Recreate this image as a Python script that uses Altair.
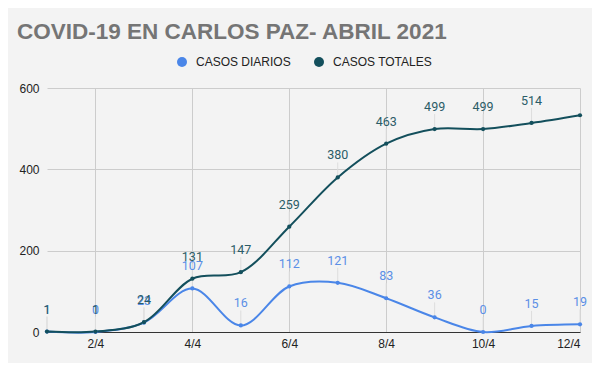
import altair as alt
import pandas as pd

days = list(range(1, 13))
diarios = [1, 0, 23, 107, 16, 112, 121, 83, 36, 0, 15, 19]
totales = [1, 1, 24, 131, 147, 259, 380, 463, 499, 499, 514, 533]
diarios_labels = ["1", "0", "23", "107", "16", "112", "121", "83", "36", "0", "15", "19"]
totales_labels = ["1", "1", "24", "131", "147", "259", "380", "463", "499", "499", "514", ""]
series = ["CASOS DIARIOS", "CASOS TOTALES"]
line_colors = ["#4a86e8", "#134f5c"]
label_colors = ["#5b8fe6", "#2b5c67"]
x_ticks = [2, 4, 6, 8, 10, 12]
y_ticks = [0, 200, 400, 600]
title_text = "COVID-19 EN CARLOS PAZ- ABRIL 2021"

rows = []
for d, v, l in zip(days, diarios, diarios_labels):
    rows.append({"day": d, "series": series[0], "value": v, "label": l})
for d, v, l in zip(days, totales, totales_labels):
    rows.append({"day": d, "series": series[1], "value": v, "label": l})
df = pd.DataFrame(rows)

x_enc = alt.X(
    "day:Q",
    scale=alt.Scale(domain=[1, 12], nice=False, zero=False),
    axis=alt.Axis(
        values=x_ticks,
        labelExpr="datum.value + '/4'",
        grid=True,
        gridColor="#cccccc",
        domainColor="#333333",
        ticks=False,
        title=None,
        labelFontSize=12,
        labelColor="#222222",
        labelFont="Liberation Sans",
        labelPadding=6,
    ),
)
y_enc = alt.Y(
    "value:Q",
    scale=alt.Scale(domain=[0, 600], nice=False),
    axis=alt.Axis(
        values=y_ticks,
        grid=True,
        gridColor="#cccccc",
        domain=False,
        ticks=False,
        title=None,
        labelFontSize=12,
        labelColor="#222222",
        labelFont="Liberation Sans",
        labelPadding=8,
    ),
)

base = alt.Chart(df)

leaders = base.transform_filter("datum.label != ''").mark_rule(
    color="#dddddd", strokeWidth=1, y2Offset=-15
).encode(x=x_enc, y=y_enc, y2=alt.Y2("value:Q"))

lines = base.mark_line(interpolate="catmull-rom", strokeWidth=2).encode(
    x=x_enc,
    y=y_enc,
    color=alt.Color(
        "series:N",
        scale=alt.Scale(domain=series, range=line_colors),
        legend=alt.Legend(
            title=None,
            orient="none",
            legendX=129,
            legendY=-32,
            direction="horizontal",
            symbolType="circle",
            symbolSize=100,
            symbolStrokeWidth=0,
            labelFontSize=12,
            labelFont="Liberation Sans",
            labelColor="#222222",
            columnPadding=22,
            labelOffset=8,
        ),
    ),
)

points = base.mark_circle(size=18, opacity=1).encode(
    x=x_enc,
    y=y_enc,
    color=alt.Color("series:N", scale=alt.Scale(domain=series, range=line_colors), legend=None),
)

text_d = base.transform_filter(alt.datum.series == series[0]).mark_text(
    dy=-22, baseline="middle", fontSize=12.5, font="Roboto", color=label_colors[0]
).encode(x=x_enc, y=y_enc, text="label:N")

text_t = base.transform_filter(alt.datum.series == series[1]).mark_text(
    dy=-22, baseline="middle", fontSize=12.5, font="Roboto", color=label_colors[1]
).encode(x=x_enc, y=y_enc, text="label:N")

chart = (
    alt.layer(leaders, lines, points, text_d, text_t)
    .properties(
        width=533,
        height=244,
        background="#f3f3f3",
        autosize=alt.AutoSizeParams(type="none"),
        padding={"left": 39, "top": 80, "right": 12, "bottom": 31},
        title=alt.TitleParams(
            text=title_text,
            anchor="start",
            frame="group",
            font="Liberation Sans",
            fontSize=22.5,
            fontWeight="bold",
            color="#757575",
            dx=-30,
            offset=13,
        ),
    )
    .configure_view(stroke=None)
)

chart.save("out.html", embed_options={"renderer": "svg", "actions": False})
